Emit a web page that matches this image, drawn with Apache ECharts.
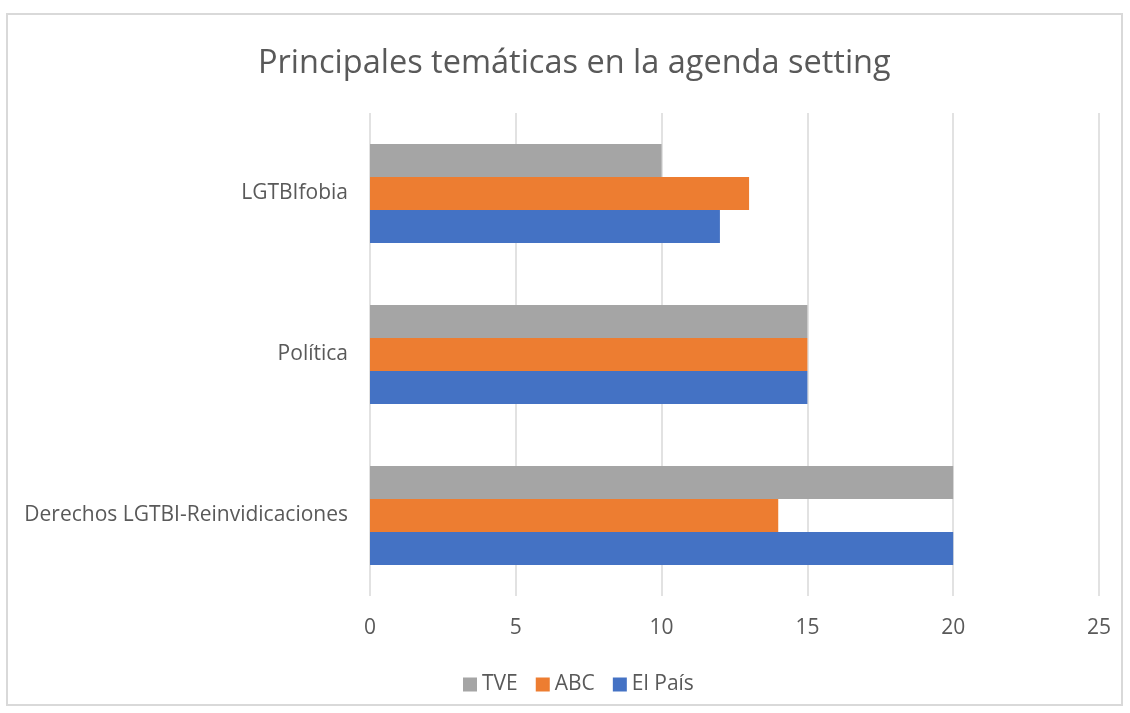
<!DOCTYPE html>
<html><head><meta charset="utf-8">
<script src="https://cdn.jsdelivr.net/npm/echarts@6/dist/echarts.min.js"></script>
<style>html,body{margin:0;padding:0;background:#fff}#c{width:1130px;height:713px}</style>
</head><body><div id="c"></div>
<script>
var categories = ['Derechos LGTBI-Reinvidicaciones', 'Política', 'LGTBIfobia'];
var elPais = [20, 15, 12];
var abc = [14, 15, 13];
var tve = [20, 15, 10];
var xTicks = [0, 5, 10, 15, 20, 25];

var font = 'Open Sans';
var chart = echarts.init(document.getElementById('c'));
chart.setOption({
  animation: false,
  textStyle: {fontFamily: font},
  graphic: [{type: 'rect', shape: {x: 7, y: 14, width: 1115, height: 691}, style: {fill: 'none', stroke: '#d9d9d9', lineWidth: 2}}],
  title: {text: 'Principales temáticas en la agenda setting', left: 253, top: 42,
    textStyle: {fontFamily: font, fontSize: 32.5, fontWeight: 'normal', color: '#595959'}},
  legend: {data: ['TVE', 'ABC', 'El País'], top: 669, left: 458, itemWidth: 14, itemHeight: 14, itemGap: 18,
    icon: 'rect', textStyle: {fontFamily: font, fontSize: 21, color: '#595959'}},
  grid: {left: 370, right: 31, top: 113, bottom: 117},
  xAxis: {type: 'value', min: 0, max: 25, interval: 5,
    axisLine: {show: false}, axisTick: {show: false},
    splitLine: {lineStyle: {color: '#d9d9d9', width: 1.5}},
    axisLabel: {fontFamily: font, fontSize: 21, color: '#595959', margin: 22}},
  yAxis: {type: 'category', data: categories,
    axisLine: {show: false}, axisTick: {show: false},
    axisLabel: {fontFamily: font, fontSize: 21, color: '#595959', margin: 22}},
  series: [
    {name: 'TVE', type: 'bar', data: tve, itemStyle: {color: '#A5A5A5'}, barGap: '0%', barCategoryGap: '38.5%'},
    {name: 'ABC', type: 'bar', data: abc, itemStyle: {color: '#ED7D31'}, barGap: '0%', barCategoryGap: '38.5%'},
    {name: 'El País', type: 'bar', data: elPais, itemStyle: {color: '#4472C4'}, barGap: '0%', barCategoryGap: '38.5%'}
  ]
});
</script></body></html>
